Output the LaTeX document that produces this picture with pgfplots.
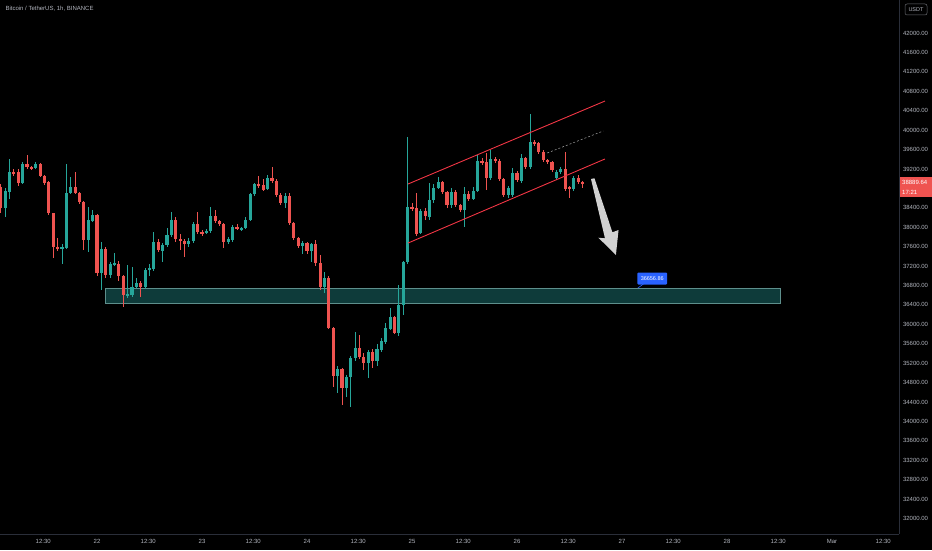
\documentclass[border=0pt]{standalone}
\usepackage{pgfplots}
\pgfplotsset{compat=1.18}
\usepackage{pgfplotstable}
\usepackage{fontspec}
\setmainfont{Liberation Sans}

\definecolor{cup}{HTML}{26A69A}
\definecolor{cdn}{HTML}{EF5350}
\definecolor{txt}{HTML}{B2B5BE}
\definecolor{frame}{HTML}{2A2E39}
\definecolor{zonefill}{HTML}{0E3B3A}
\definecolor{zoneline}{HTML}{5E8F8C}
\definecolor{chan}{HTML}{F23645}
\definecolor{tvblue}{HTML}{2962FF}

% hourly candles, h = hours since 22 Feb 00:00
\pgfplotstableread{
h o hi lo c
-22 38828 38900 38300 38395
-21 38395 38800 38210 38745
-20 38725 39405 38580 39137
-19 39137 39200 39050 39116
-18 39137 39200 38850 38910
-17 38910 39350 38880 39302
-16 39302 39490 39200 39240
-15 39240 39260 39170 39199
-14 39219 39340 39190 39302
-13 39302 39320 39030 39054
-12 39054 39080 38870 38910
-11 38931 38950 38250 38292
-10 38292 38300 37370 37592
-9 37592 37780 37500 37551
-8 37571 37650 37240 37592
-7 37571 39300 37550 38704
-6 38704 39030 38680 38828
-5 38828 39137 38680 38704
-4 38704 38730 38480 38519
-3 38519 38540 37530 37736
-2 37736 38416 37489 38148
-1 38127 38350 38100 38251
0 38251 38280 36990 37056
1 37056 37700 36700 37551
2 37551 37600 36950 37015
3 37015 37280 36950 37242
4 37242 37470 37200 37262
5 37242 37300 36900 36994
6 36994 37020 36360 36603
7 36582 37220 36550 36624
8 36603 37180 36560 36768
9 36768 36950 36720 36850
10 36850 36900 36560 36768
11 36768 37150 36720 37118
12 37118 37250 37000 37159
13 37139 37900 37100 37695
14 37695 37750 37480 37530
15 37509 37680 37283 37633
16 37633 37983 37600 37839
17 37839 38313 37800 38148
18 38148 38200 37700 37757
19 37757 37850 37530 37715
20 37715 37750 37386 37654
21 37654 37780 37600 37715
22 37715 38100 37680 38066
23 38066 38313 37850 37901
24 37901 37950 37820 37880
25 37880 37960 37850 37921
26 37921 38416 37880 38230
27 38230 38350 38090 38127
28 38127 38150 38020 38066
29 38066 38090 37571 37695
30 37695 37800 37650 37757
31 37736 38050 37700 38004
32 38004 38060 37940 37983
33 37963 38010 37930 37983
34 37983 38200 37960 38148
35 38148 38700 38120 38684
36 38684 38920 38650 38890
37 38890 39060 38800 38848
38 38869 39000 38740 38766
39 38787 39080 38760 39013
40 39013 39240 38920 38951
41 38951 38990 38630 38663
42 38663 38700 38460 38498
43 38498 38700 38400 38642
44 38642 38700 38050 38086
45 38086 38100 37740 37777
46 37777 37800 37571 37612
47 37612 37720 37450 37674
48 37674 37700 37450 37509
49 37509 37680 37283 37654
50 37654 37736 37200 37262
51 37262 37427 36700 36768
52 36768 37077 36650 36953
53 36953 37000 35900 35923
54 35923 35950 34708 34934
55 34934 35150 34584 35079
56 35079 35100 34337 34687
57 34687 34950 34502 34914
58 34914 35350 34296 35305
59 35305 35850 35250 35511
60 35511 35779 35280 35326
61 35326 35400 35058 35202
62 35202 35480 34893 35429
63 35429 35500 35100 35243
64 35243 35600 35150 35491
65 35470 35717 35429 35655
66 35635 36026 35600 35923
67 35903 36335 35880 36150
68 36150 36170 35800 35820
69 35820 36809 35750 36397
70 36397 37300 36191 37283
71 37283 39858 37250 38416
72 38416 38498 38340 38375
73 38395 38704 37820 37860
74 37880 38380 37850 38333
75 38333 38400 38150 38230
76 38210 38910 38148 38560
77 38560 38900 38500 38807
78 38807 39034 38780 38931
79 38931 38960 38680 38725
80 38725 38750 38400 38457
81 38457 38800 38400 38725
82 38725 38760 38420 38457
83 38457 38480 38320 38354
84 38354 38828 38004 38684
85 38684 38750 38540 38581
86 38581 38830 38550 38745
87 38745 39487 38720 39363
88 39363 39420 39280 39322
89 39343 39528 38766 39013
90 39013 39590 38980 39405
91 39405 39450 39320 39363
92 39363 39400 38950 38993
93 38993 39020 38620 38663
94 38663 38850 38600 38807
95 38663 39219 38620 39116
96 39116 39150 38930 38972
97 38951 39500 38920 39425
98 39425 39450 39200 39240
99 39240 40332 39200 39755
100 39755 39800 39680 39714
101 39734 39760 39510 39549
102 39549 39580 39350 39384
103 39384 39400 39300 39343
104 39343 39360 39140 39178
105 39013 39180 38980 39137
106 39137 39250 39100 39199
107 39199 39549 38750 38787
108 38830 38850 38601 38800
109 38787 39050 38750 39013
110 39013 39080 38900 38931
111 38931 38960 38800 38890
}\candles

\pgfplotsset{
  wick/.style={draw=none, mark=none, forget plot,
    error bars/y dir=both, error bars/y explicit, error bars/error mark=none,
    error bars/error bar style={draw=#1, line width=0.9pt}},
  body/.style={draw=none, mark=none, forget plot,
    error bars/y dir=both, error bars/y explicit, error bars/error mark=none,
    error bars/error bar style={draw=#1, line width=3.1pt}},
  isup/.style={restrict expr to domain={\thisrow{c}-\thisrow{o}}{0:1000000}},
  isdn/.style={restrict expr to domain={\thisrow{c}-\thisrow{o}}{-1000000:-0.5}},
}

\begin{document}
\begin{tikzpicture}
\fill[black, use as bounding box] (0,0) rectangle (932pt,550pt);
\begin{axis}[
  at={(0pt,16pt)}, anchor=south west,
  scale only axis, width=899pt, height=534pt,
  xmin=-22.17, xmax=183.3, ymin=31680, ymax=42680,
  axis x line*=bottom, axis y line*=right,
  axis line style={frame, line width=0.8pt},
  major tick length=0pt, tick style={draw=none},
  scaled y ticks=false,
  % 38800 sits under the last-price tag
  ytick={32000,32400,32800,33200,33600,34000,34400,34800,35200,35600,36000,36400,36800,
         37200,37600,38000,38400,39200,39600,40000,40400,40800,41200,41600,42000,42400},
  yticklabel style={font=\fontsize{6}{7}\selectfont, text=txt, anchor=west, xshift=0.5pt,
    /pgf/number format/fixed, /pgf/number format/fixed zerofill,
    /pgf/number format/precision=2, /pgf/number format/1000 sep={}},
  xtick={-12.3,0,11.7,24,35.7,48,59.7,72,83.7,96,107.7,120,131.7,144,155.7,168,179.7},
  xticklabels={12:30,22,12:30,23,12:30,24,12:30,25,12:30,26,12:30,27,12:30,28,12:30,Mar,12:30},
  xticklabel style={font=\fontsize{6}{7}\selectfont, text=txt, yshift=-2pt},
  /pgf/number format/assume math mode=true,
  clip=false,
]
% support zone
\addplot[fill=zonefill, draw=zoneline, line width=0.8pt]
  coordinates {(1.83,36438) (156.1,36438) (156.1,36747) (1.83,36747)} -- cycle;

% candles
\addplot[isup, wick=cup]
  table[x=h, y expr={(\thisrow{hi}+\thisrow{lo})/2}, y error expr={(\thisrow{hi}-\thisrow{lo})/2}] {\candles};
\addplot[isdn, wick=cdn]
  table[x=h, y expr={(\thisrow{hi}+\thisrow{lo})/2}, y error expr={(\thisrow{hi}-\thisrow{lo})/2}] {\candles};
\addplot[isup, body=cup]
  table[x=h, y expr={(\thisrow{o}+\thisrow{c})/2}, y error expr={max(abs(\thisrow{c}-\thisrow{o})/2,10)}] {\candles};
\addplot[isdn, body=cdn]
  table[x=h, y expr={(\thisrow{o}+\thisrow{c})/2}, y error expr={max(abs(\thisrow{c}-\thisrow{o})/2,10)}] {\candles};

% rising channel
\addplot[chan, line width=0.9pt] coordinates {(71.1,38890) (116.1,40599)};
\addplot[chan, line width=0.9pt] coordinates {(71.1,37674) (116.1,39405)};
\addplot[gray!70, dash pattern=on 2pt off 2pt, line width=0.5pt] coordinates {(102.9,39528) (115.7,39982)};

% down arrow
\addplot[fill=white!82!black, draw=none]
  coordinates {(112.9,38993) (113.7,39007) (117.8,37895) (119.2,37942) (118.6,37427) (114.6,37783) (116.1,37771)} -- cycle;

% zone price tag
\addplot[tvblue, line width=0.6pt] coordinates {(123.6,36747) (124.9,36830)};
\node[fill=tvblue, text=white, font=\fontsize{5.5}{6}\selectfont, inner xsep=3.5pt,
  minimum height=12pt, rounded corners=1pt] at (axis cs:126.9,36943) {36656.86};
\end{axis}

% title and price scale extras
\node[anchor=west, text=txt, font=\fontsize{6}{7}\selectfont] at (2pt,541pt) {Bitcoin / TetherUS, 1h, BINANCE};
\fill[black] (901pt,533pt) rectangle (932pt,550pt);
\draw[txt!60!black, fill=black, rounded corners=2pt, line width=0.5pt] (905pt,535pt) rectangle (927pt,546pt);
\node[text=txt, font=\fontsize{5.5}{6}\selectfont] at (916pt,540.5pt) {USDT};
\fill[cdn] (899.5pt,373pt) rectangle (932pt,353pt);
\node[anchor=west, text=white, font=\fontsize{6}{7}\selectfont, inner sep=0pt] at (902pt,368pt) {38889.64};
\node[anchor=west, text=white, font=\fontsize{6}{7}\selectfont, inner sep=0pt] at (902pt,358pt) {17:21};
\end{tikzpicture}
\end{document}
